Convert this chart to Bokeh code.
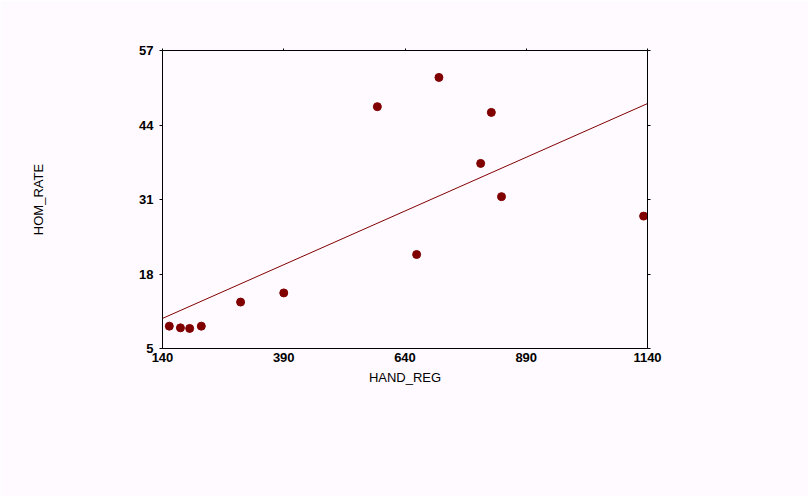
import numpy as np
from bokeh.plotting import figure
from bokeh.models import Range1d, FixedTicker, LinearAxis
from bokeh.embed import file_html
from bokeh.resources import INLINE

# Data
hand_reg = [154, 177, 196, 220, 301, 390, 583, 664, 710, 796, 818, 839, 1132]
hom_rate = [8.9, 8.6, 8.5, 8.9, 13.1, 14.7, 47.2, 21.4, 52.3, 37.3, 46.2, 31.5, 28.1]

x_ticks = [140, 390, 640, 890, 1140]
y_ticks = [5, 18, 31, 44, 57]
x_title = "HAND_REG"
y_title = "HOM_RATE"

BG = "#fffaff"
MARK = "#800000"
FONT = "Liberation Sans"

p = figure(width=808, height=496, output_backend="svg", toolbar_location=None,
           x_range=Range1d(x_ticks[0], x_ticks[-1]), y_range=Range1d(y_ticks[0], y_ticks[-1]),
           min_border_left=162, min_border_right=161, min_border_top=50, min_border_bottom=148)
p.background_fill_color = BG
p.border_fill_color = BG
p.outline_line_color = None
p.xgrid.visible = False
p.ygrid.visible = False

def style_axis(ax, ticks, tick_out, show_labels, standoff):
    ax.ticker = FixedTicker(ticks=ticks)
    ax.axis_line_color = "black"
    ax.axis_line_width = 1
    ax.major_tick_in = 0
    ax.major_tick_out = tick_out
    ax.major_tick_line_color = "black" if tick_out > 0 else None
    ax.minor_tick_line_color = None
    ax.major_label_standoff = standoff
    ax.major_label_text_font = FONT
    ax.major_label_text_font_style = "bold"
    ax.major_label_text_font_size = "13px"
    ax.major_label_text_color = "black" if show_labels else None

def style_title(ax, text, standoff):
    ax.axis_label = text
    ax.axis_label_standoff = standoff
    ax.axis_label_text_font = FONT
    ax.axis_label_text_font_style = "normal"
    ax.axis_label_text_font_size = "13px"
    ax.axis_label_text_color = "black"

xa = p.xaxis[0]
ya = p.yaxis[0]
style_axis(xa, x_ticks, 0, True, 4)
style_axis(ya, y_ticks, 3, True, 6)
style_title(xa, x_title, 5)
style_title(ya, y_title, 90)

top = LinearAxis()
style_axis(top, x_ticks, 2, False, 0)
p.add_layout(top, "above")
right = LinearAxis()
style_axis(right, y_ticks, 3, False, 0)
p.add_layout(right, "right")

# regression line
slope, intercept = np.polyfit(hand_reg, hom_rate, 1)
lx = [x_ticks[0], x_ticks[-1]]
ly = [intercept + slope * v for v in lx]
p.line(lx, ly, line_color=MARK, line_width=1)

p.scatter(hand_reg, hom_rate, size=8, marker="circle", fill_color=MARK, line_color=MARK)

open("out.html", "w").write(file_html(p, INLINE))
